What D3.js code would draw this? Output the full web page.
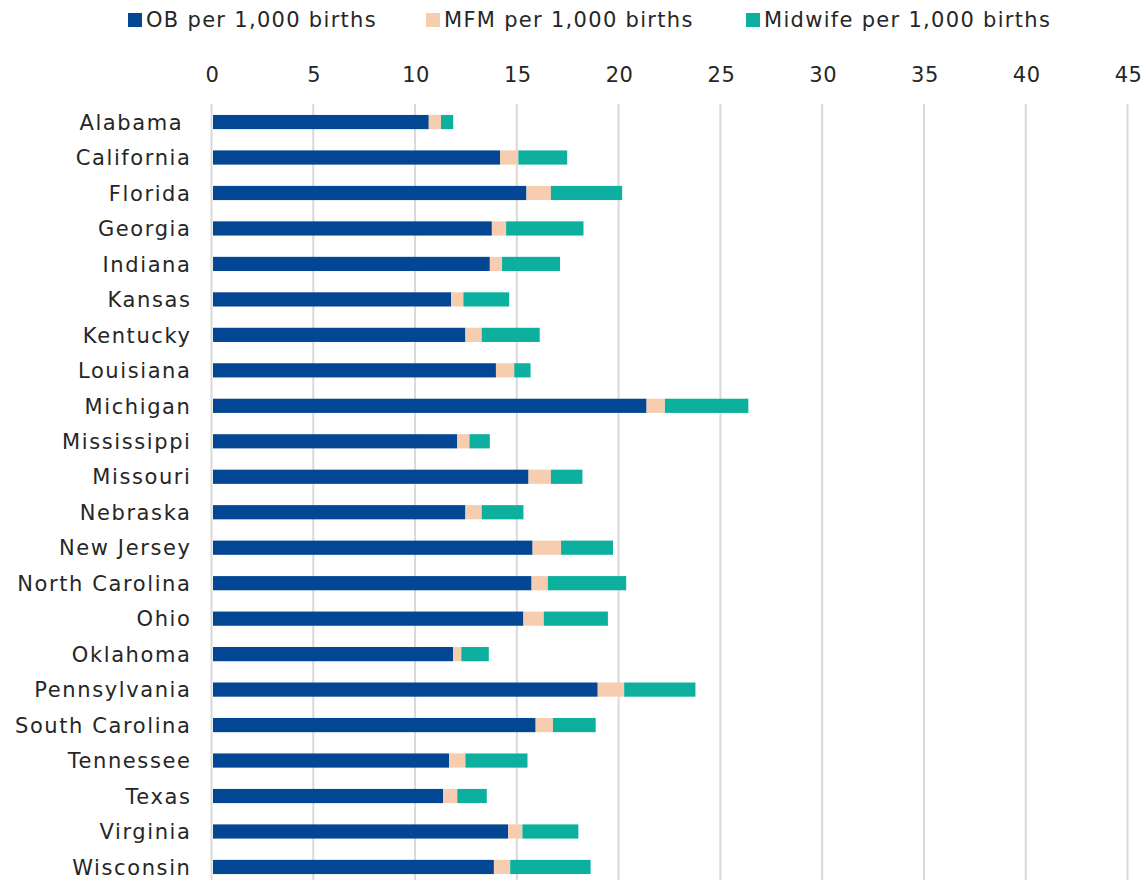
<!DOCTYPE html>
<html>
<head>
<meta charset="utf-8">
<script src="https://cdn.jsdelivr.net/npm/d3@7"></script>
<style>
  html, body { margin: 0; padding: 0; background: #fff; }
  svg { display: block; }
  text { font-family: "DejaVu Sans", sans-serif; fill: #262626; white-space: pre; }
</style>
</head>
<body>
<svg id="chart" width="1148" height="880"></svg>
<script>
const states = ["Alabama ", "California", "Florida", "Georgia", "Indiana", "Kansas", "Kentucky",
  "Louisiana", "Michigan", "Mississippi", "Missouri", "Nebraska", "New Jersey", "North Carolina",
  "Ohio", "Oklahoma", "Pennsylvania", "South Carolina", "Tennessee", "Texas", "Virginia", "Wisconsin"];
const obValues = [10.6, 14.1, 15.4, 13.7, 13.6, 11.7, 12.4, 13.9, 21.3, 12.0, 15.5, 12.4, 15.7, 15.65,
  15.25, 11.8, 18.9, 15.85, 11.6, 11.3, 14.5, 13.8];
const mfmValues = [0.6, 0.9, 1.2, 0.7, 0.6, 0.6, 0.8, 0.9, 0.9, 0.6, 1.1, 0.8, 1.4, 0.8,
  1.0, 0.4, 1.3, 0.85, 0.8, 0.7, 0.7, 0.8];
const midwifeValues = [0.6, 2.4, 3.5, 3.8, 2.85, 2.25, 2.85, 0.8, 4.1, 1.0, 1.55, 2.05, 2.55, 3.85,
  3.15, 1.35, 3.5, 2.1, 3.05, 1.45, 2.75, 3.95];
const seriesNames = ["OB per 1,000 births", "MFM per 1,000 births", "Midwife per 1,000 births"];
const seriesColors = ["#034694", "#F7CDAF", "#0DB09E"];
const tickValues = [0, 5, 10, 15, 20, 25, 30, 35, 40, 45];

const rows = states.map((s, i) => ({ state: s, ob: obValues[i], mfm: mfmValues[i], mid: midwifeValues[i] }));
const keys = ["ob", "mfm", "mid"];
const stacked = d3.stack().keys(keys)(rows);

const svg = d3.select("#chart");
const x = d3.scaleLinear().domain([0, 45]).range([212, 1128]);
const y = d3.scaleBand().domain(states).range([104.3, 884.7]).paddingInner(0.6).paddingOuter(0.3);

// gridlines
svg.append("g").selectAll("line").data(tickValues).join("line")
  .attr("x1", d => x(d) - 0.5).attr("x2", d => x(d) - 0.5)
  .attr("y1", 104).attr("y2", 880)
  .attr("stroke", "#d9d9d9").attr("stroke-width", 2);

// top axis labels
const xAxis = svg.append("g").attr("transform", "translate(0,82)")
  .call(d3.axisTop(x).tickValues(tickValues).tickSize(0).tickPadding(0).tickFormat(d3.format("d")));
xAxis.select(".domain").remove();
xAxis.selectAll("text").style("font-size", "21px").attr("fill", "#262626")
  .style("font-family", "'DejaVu Sans', sans-serif").style("letter-spacing", "0.5px");

// bars
svg.append("g").selectAll("g").data(stacked).join("g")
  .attr("fill", (d, i) => seriesColors[i])
  .selectAll("rect").data(d => d).join("rect")
  .attr("x", d => x(d[0]) + 1)
  .attr("width", d => x(d[1]) - x(d[0]))
  .attr("y", d => y(d.data.state))
  .attr("height", y.bandwidth());

// y labels
const yAxis = svg.append("g").attr("transform", "translate(191.5,1)")
  .call(d3.axisLeft(y).tickSize(0).tickPadding(0));
yAxis.select(".domain").remove();
yAxis.selectAll("text").style("font-size", "21px").attr("fill", "#262626")
  .style("font-family", "'DejaVu Sans', sans-serif").style("letter-spacing", "1.6px")
  .style("white-space", "pre");

// legend
const legendX = [128, 426, 746];
const legend = svg.append("g").selectAll("g").data(seriesNames).join("g")
  .attr("transform", (d, i) => `translate(${legendX[i]},20)`);
legend.append("rect").attr("x", 0).attr("y", -7).attr("width", 14).attr("height", 14)
  .attr("fill", (d, i) => seriesColors[i]);
legend.append("text").attr("x", 18).attr("y", 0).attr("dy", "0.35em")
  .style("font-size", "21px").style("letter-spacing", "1.3px").text(d => d);
</script>
</body>
</html>
